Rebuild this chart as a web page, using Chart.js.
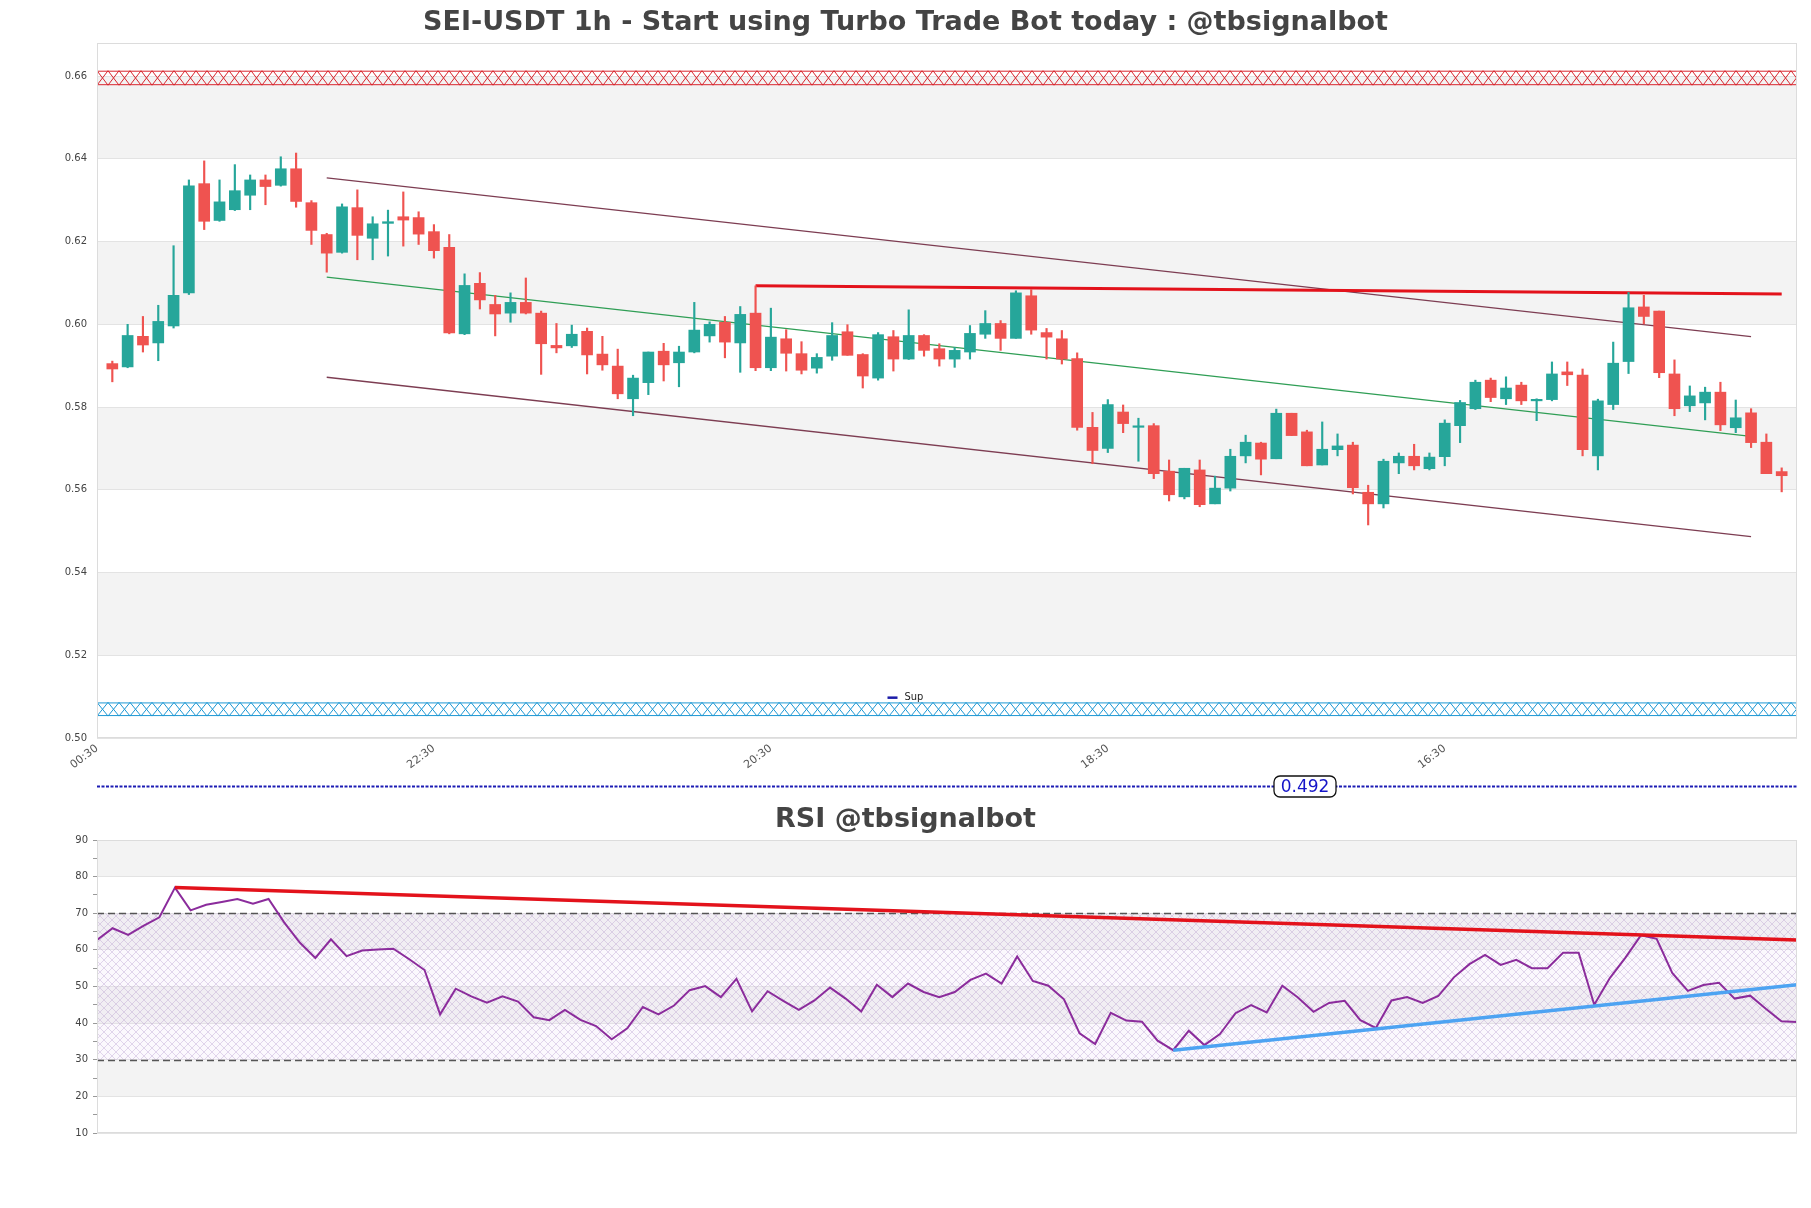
<!DOCTYPE html>
<html>
<head>
<meta charset="utf-8">
<script src="https://cdn.jsdelivr.net/npm/chart.js@4.4.0/dist/chart.umd.min.js"></script>
<style>
  html, body { margin: 0; padding: 0; background: #fff; }
  #wrap { position: relative; width: 1811px; height: 1208px; }
  #main { position: absolute; left: 0; top: 0; }
  #rsi { position: absolute; left: 0; top: 800px; }
</style>
</head>
<body>
<div id="wrap">
  <canvas id="main" width="1811" height="800"></canvas>
  <canvas id="rsi" width="1811" height="408"></canvas>
</div>
<script>
// ---- data ----
var xTickLabels = ['00:30', '22:30', '20:30', '18:30', '16:30'];
var tickEvery = 22; // hourly candles between two labels

var opens = [0.5905,0.5897,0.5971,0.5955,0.5996,0.6076,0.6340,0.6251,0.6277,0.6312,
  0.6349,0.6336,0.6376,0.6294,0.6217,0.6174,0.6282,0.6208,0.6244,0.6260,
  0.6258,0.6224,0.6186,0.5977,0.6099,0.6048,0.6027,0.6053,0.6027,0.5949,
  0.5948,0.5983,0.5928,0.5899,0.5820,0.5859,0.5935,0.5907,0.5933,0.5972,
  0.6005,0.5955,0.6027,0.5895,0.5965,0.5929,0.5894,0.5923,0.5982,0.5927,
  0.5870,0.5970,0.5916,0.5973,0.5941,0.5916,0.5933,0.5976,0.6002,0.5966,
  0.6069,0.5980,0.5965,0.5917,0.5751,0.5700,0.5788,0.5751,0.5755,0.5645,
  0.5583,0.5648,0.5566,0.5604,0.5682,0.5713,0.5675,0.5785,0.5740,0.5660,
  0.5697,0.5708,0.5594,0.5566,0.5665,0.5681,0.5651,0.5680,0.5755,0.5796,
  0.5865,0.5820,0.5853,0.5815,0.5818,0.5885,0.5877,0.5682,0.5806,0.5910,
  0.6042,0.6032,0.5880,0.5803,0.5810,0.5836,0.5750,0.5786,0.5715,0.5644];
var highs = [0.5911,0.6000,0.6019,0.6046,0.6190,0.6349,0.6395,0.6349,0.6386,0.6361,
  0.6361,0.6405,0.6414,0.6299,0.6220,0.6291,0.6325,0.6260,0.6276,0.6320,
  0.6272,0.6241,0.6217,0.6122,0.6125,0.6070,0.6076,0.6112,0.6032,0.6002,
  0.5998,0.5991,0.5971,0.5940,0.5877,0.5933,0.5954,0.5947,0.6053,0.6006,
  0.6019,0.6043,0.6093,0.6039,0.5987,0.5958,0.5929,0.6004,0.5999,0.5929,
  0.5980,0.5985,0.6035,0.5975,0.5953,0.5944,0.5997,0.6033,0.6009,0.6081,
  0.6084,0.5990,0.5985,0.5931,0.5787,0.5818,0.5805,0.5773,0.5760,0.5672,
  0.5652,0.5672,0.5633,0.5698,0.5732,0.5715,0.5795,0.5785,0.5744,0.5764,
  0.5735,0.5715,0.5611,0.5674,0.5689,0.5710,0.5689,0.5769,0.5816,0.5865,
  0.5870,0.5873,0.5860,0.5820,0.5909,0.5909,0.5892,0.5819,0.5957,0.6077,
  0.6070,0.6032,0.5914,0.5851,0.5848,0.5860,0.5817,0.5796,0.5735,0.5653];
var lows = [0.5861,0.5895,0.5933,0.5912,0.5991,0.6072,0.6229,0.6249,0.6275,0.6277,
  0.6289,0.6334,0.6283,0.6193,0.6126,0.6172,0.6156,0.6156,0.6165,0.6189,
  0.6193,0.6160,0.5977,0.5975,0.6037,0.5972,0.6005,0.6025,0.5879,0.5931,
  0.5944,0.5880,0.5889,0.5820,0.5779,0.5830,0.5863,0.5849,0.5931,0.5957,
  0.5919,0.5884,0.5888,0.5888,0.5887,0.5880,0.5882,0.5913,0.5925,0.5846,
  0.5865,0.5887,0.5915,0.5923,0.5899,0.5896,0.5916,0.5966,0.5937,0.5966,
  0.5976,0.5916,0.5904,0.5744,0.5663,0.5690,0.5738,0.5669,0.5627,0.5573,
  0.5578,0.5559,0.5566,0.5597,0.5665,0.5636,0.5675,0.5731,0.5658,0.5660,
  0.5682,0.5590,0.5515,0.5556,0.5639,0.5648,0.5648,0.5658,0.5714,0.5794,
  0.5813,0.5806,0.5806,0.5767,0.5815,0.5852,0.5682,0.5648,0.5794,0.5881,
  0.6001,0.5871,0.5779,0.5789,0.5769,0.5743,0.5738,0.5702,0.5639,0.5595];
var closes = [0.5892,0.5973,0.5950,0.6007,0.6070,0.6335,0.6249,0.6296,0.6323,0.6349,
  0.6333,0.6376,0.6297,0.6227,0.6172,0.6284,0.6215,0.6243,0.6248,0.6252,
  0.6218,0.6178,0.5979,0.6094,0.6059,0.6025,0.6053,0.6027,0.5953,0.5943,
  0.5976,0.5926,0.5902,0.5832,0.5870,0.5933,0.5902,0.5933,0.5986,0.6000,
  0.5957,0.6024,0.5895,0.5969,0.5930,0.5889,0.5920,0.5973,0.5925,0.5875,
  0.5975,0.5916,0.5973,0.5937,0.5916,0.5937,0.5978,0.6002,0.5966,0.6076,
  0.5986,0.5969,0.5916,0.5751,0.5695,0.5806,0.5760,0.5754,0.5639,0.5588,
  0.5652,0.5564,0.5604,0.5681,0.5715,0.5674,0.5785,0.5731,0.5658,0.5698,
  0.5706,0.5605,0.5566,0.5669,0.5681,0.5658,0.5679,0.5761,0.5811,0.5860,
  0.5823,0.5846,0.5815,0.5818,0.5880,0.5878,0.5697,0.5815,0.5906,0.6040,
  0.6019,0.5883,0.5796,0.5827,0.5836,0.5757,0.5774,0.5714,0.5639,0.5634];

var rsi = [62.7,65.9,64.1,66.6,68.9,77.0,70.8,72.3,73.1,73.9,
  72.6,73.9,67.5,62.0,57.8,62.9,58.3,59.8,60.1,60.3,
  57.5,54.5,42.4,49.4,47.3,45.6,47.3,45.9,41.6,40.8,
  43.6,40.9,39.2,35.6,38.6,44.4,42.4,44.8,49.0,50.1,
  47.1,52.1,43.2,48.7,46.1,43.6,46.2,49.7,46.7,43.2,
  50.5,47.1,50.8,48.5,47.1,48.5,51.8,53.5,50.8,58.2,
  51.5,50.2,46.5,37.2,34.3,42.8,40.7,40.4,35.2,32.6,
  37.9,34.0,37.0,42.7,44.9,42.9,50.2,47.0,43.1,45.5,
  46.1,40.8,38.7,46.2,47.1,45.5,47.4,52.5,56.1,58.6,
  55.9,57.3,55.0,55.0,59.2,59.2,45.0,52.3,57.9,64.0,
  63.0,53.7,48.8,50.4,51.0,46.7,47.5,43.9,40.5,40.3];

// trend lines as [candle index, value]
var channelTop = [[15, 0.6354], [108, 0.5970]];
var channelMid = [[15, 0.6114], [108, 0.5729]];
var channelBottom = [[15, 0.5872], [108, 0.5487]];
var resistanceLine = [[43, 0.6093], [110, 0.6073]];
var resZone = [0.6578, 0.6613];
var supZone = [0.5053, 0.5086];
var lastPrice = 0.492;

var rsiResLine = [[5, 77.0], [109, 62.7]];
var rsiSupLine = [[69, 32.6], [109, 50.5]];
var rsiLevels = [30, 70];

var mainTitle = 'SEI-USDT 1h - Start using Turbo Trade Bot today : @tbsignalbot';
var rsiTitle = 'RSI @tbsignalbot';

// ---- helpers ----
Chart.defaults.font.family = '"DejaVu Sans", sans-serif';
Chart.defaults.color = '#444';

var upColor = '#26a69a';
var downColor = '#ef5350';

var toXY = function(pairs) {
    return pairs.map(function(p) { return {x: p[0], y: p[1]}; });
};

// alternate grey bands between major ticks
var shadeBands = function(ctx, a, y, step) {
    ctx.fillStyle = '#f3f3f3';
    for (var i = 0; y.min + i * step < y.max - 1e-9; i++) {
        if (i % 2 === 0) continue;
        var lo = y.min + i * step;
        var hi = Math.min(y.min + (i + 1) * step, y.max);
        var top = y.getPixelForValue(hi), bot = y.getPixelForValue(lo);
        ctx.fillRect(a.left, top, a.right - a.left, bot - top);
    }
};

// zone drawn as a row of crosses between two rails
var hatchZone = function(ctx, a, y, zone, color) {
    var top = y.getPixelForValue(zone[1]), bot = y.getPixelForValue(zone[0]);
    var w = 11;
    ctx.save();
    ctx.beginPath();
    ctx.rect(a.left, top - 1, a.right - a.left, bot - top + 2);
    ctx.clip();
    ctx.strokeStyle = color;
    ctx.lineWidth = 1;
    ctx.beginPath();
    for (var x = a.left; x < a.right; x += w) {
        ctx.moveTo(x, top); ctx.lineTo(x + w, bot);
        ctx.moveTo(x + w, top); ctx.lineTo(x, bot);
    }
    ctx.moveTo(a.left, top + 0.5); ctx.lineTo(a.right, top + 0.5);
    ctx.moveTo(a.left, bot - 0.5); ctx.lineTo(a.right, bot - 0.5);
    ctx.stroke();
    ctx.restore();
};

var drawTitle = function(chart, text, yPos) {
    var ctx = chart.ctx;
    ctx.save();
    ctx.font = 'bold 27px "DejaVu Sans"';
    ctx.fillStyle = '#444';
    ctx.textAlign = 'center';
    ctx.textBaseline = 'middle';
    ctx.fillText(text, chart.width / 2, yPos);
    ctx.restore();
};

var drawBorder = function(chart) {
    var ctx = chart.ctx, a = chart.chartArea;
    ctx.save();
    ctx.strokeStyle = '#dcdcdc';
    ctx.lineWidth = 1;
    ctx.strokeRect(a.left + 0.5, a.top + 0.5, a.right - a.left - 1, a.bottom - a.top - 1);
    ctx.restore();
};

// ---- price chart ----
var mainDecor = {
    id: 'mainDecor',
    beforeDraw: function(chart) {
        var ctx = chart.ctx;
        ctx.save();
        ctx.fillStyle = '#fff';
        ctx.fillRect(0, 0, chart.width, chart.height);
        shadeBands(ctx, chart.chartArea, chart.scales.y, 0.02);
        ctx.restore();
    },
    beforeDatasetsDraw: function(chart) {
        hatchZone(chart.ctx, chart.chartArea, chart.scales.y, resZone, '#d8262e');
        hatchZone(chart.ctx, chart.chartArea, chart.scales.y, supZone, '#1e98d4');
    },
    afterDraw: function(chart) {
        var ctx = chart.ctx, a = chart.chartArea, y = chart.scales.y;
        drawBorder(chart);
        drawTitle(chart, mainTitle, 23);

        // legend, only the support zone is listed
        var ly = y.getPixelForValue(supZone[1]) - 5;
        var lx = chart.width / 2 - 18;
        ctx.save();
        ctx.fillStyle = '#1c1ca8';
        ctx.fillRect(lx, ly - 1, 10, 2.5);
        ctx.font = '11px "Liberation Sans Narrow", "DejaVu Sans Condensed", sans-serif';
        ctx.fillStyle = '#222';
        ctx.textBaseline = 'middle';
        ctx.fillText('Sup', lx + 17, ly);
        ctx.restore();

        // last price line, below the visible range
        var py = a.bottom + 48.5;
        ctx.save();
        ctx.strokeStyle = '#1c1cb4';
        ctx.lineWidth = 2;
        ctx.setLineDash([3, 1.5]);
        ctx.beginPath();
        ctx.moveTo(a.left, py); ctx.lineTo(a.right, py);
        ctx.stroke();
        ctx.setLineDash([]);
        var bx = 1274, bw = 62, bh = 21;
        ctx.beginPath();
        ctx.roundRect(bx, py - bh / 2, bw, bh, 6);
        ctx.fillStyle = '#fff';
        ctx.fill();
        ctx.lineWidth = 1.3;
        ctx.strokeStyle = '#111';
        ctx.stroke();
        ctx.font = '17px "DejaVu Sans"';
        ctx.fillStyle = '#1515c8';
        ctx.textAlign = 'center';
        ctx.textBaseline = 'middle';
        ctx.fillText(lastPrice.toFixed(3), bx + bw / 2, py + 1);
        ctx.restore();
    }
};

var candleX = opens.map(function(o, i) { return i + 1; });
var candleColors = opens.map(function(o, i) { return closes[i] >= o ? upColor : downColor; });

var lineSet = function(label, pairs, color, width, order) {
    return {
        type: 'line', label: label, data: toXY(pairs),
        borderColor: color, borderWidth: width, pointRadius: 0, order: order
    };
};

new Chart(document.getElementById('main'), {
    type: 'bar',
    data: {
        datasets: [
            {
                label: 'Body',
                data: candleX.map(function(x, i) { return {x: x, y: [opens[i], closes[i]]}; }),
                backgroundColor: candleColors,
                barThickness: 11, minBarLength: 1.5, grouped: false, order: 0
            },
            {
                label: 'Wick',
                data: candleX.map(function(x, i) { return {x: x, y: [lows[i], highs[i]]}; }),
                backgroundColor: candleColors,
                barThickness: 1.5, grouped: false, order: 1
            },
            lineSet('Res', resistanceLine, '#e3121b', 3, 2),
            lineSet('Channel top', channelTop, '#7d3d52', 1.3, 3),
            lineSet('Channel mid', channelMid, '#2f9e55', 1.3, 4),
            lineSet('Channel bottom', channelBottom, '#7d3d52', 1.3, 5)
        ]
    },
    options: {
        responsive: false,
        devicePixelRatio: 1,
        animation: false,
        layout: {padding: {top: 43, right: 14, left: 0, bottom: 0}},
        plugins: {legend: {display: false}, title: {display: false}, tooltip: {enabled: false}},
        scales: {
            x: {
                type: 'linear', min: 0, max: candleX.length + 1, offset: false,
                grid: {display: false, drawTicks: false, offset: false},
                border: {display: false},
                afterBuildTicks: function(s) {
                    s.ticks = xTickLabels.map(function(l, k) { return {value: k * tickEvery}; });
                },
                afterFit: function(s) { s.height = 62; },
                ticks: {
                    autoSkip: false, minRotation: 37, maxRotation: 37, padding: 4,
                    font: {size: 11}, color: '#555',
                    callback: function(v) { return xTickLabels[Math.round(v / tickEvery)]; }
                }
            },
            y: {
                min: 0.5, max: 0.668,
                afterFit: function(s) { s.width = 97; },
                grid: {color: '#e3e3e3', drawTicks: false},
                border: {display: false},
                ticks: {
                    stepSize: 0.02, includeBounds: false, padding: 10,
                    font: {size: 10}, color: '#444',
                    callback: function(v) { return v.toFixed(2); }
                }
            }
        }
    },
    plugins: [mainDecor]
});

// ---- RSI chart ----
var hatchCanvas = document.createElement('canvas');
hatchCanvas.width = hatchCanvas.height = 8;
var hc = hatchCanvas.getContext('2d');
hc.strokeStyle = 'rgba(175, 145, 200, 0.35)';
hc.lineWidth = 1;
hc.beginPath();
hc.moveTo(0, 0); hc.lineTo(8, 8);
hc.moveTo(8, 0); hc.lineTo(0, 8);
hc.stroke();

var rsiDecor = {
    id: 'rsiDecor',
    beforeDraw: function(chart) {
        var ctx = chart.ctx;
        ctx.save();
        ctx.fillStyle = '#fff';
        ctx.fillRect(0, 0, chart.width, chart.height);
        shadeBands(ctx, chart.chartArea, chart.scales.y, 10);
        ctx.restore();
    },
    beforeDatasetsDraw: function(chart) {
        var ctx = chart.ctx, a = chart.chartArea, y = chart.scales.y;
        var top = y.getPixelForValue(rsiLevels[1]), bot = y.getPixelForValue(rsiLevels[0]);
        ctx.save();
        ctx.fillStyle = 'rgba(232, 218, 242, 0.18)';
        ctx.fillRect(a.left, top, a.right - a.left, bot - top);
        ctx.fillStyle = ctx.createPattern(hatchCanvas, 'repeat');
        ctx.fillRect(a.left, top, a.right - a.left, bot - top);
        ctx.strokeStyle = '#555';
        ctx.lineWidth = 1.3;
        ctx.setLineDash([7, 4]);
        rsiLevels.forEach(function(v) {
            var py = Math.round(y.getPixelForValue(v)) + 0.5;
            ctx.beginPath();
            ctx.moveTo(a.left, py); ctx.lineTo(a.right, py);
            ctx.stroke();
        });
        ctx.restore();
    },
    afterDraw: function(chart) {
        drawBorder(chart);
        drawTitle(chart, rsiTitle, 20);
    }
};

new Chart(document.getElementById('rsi'), {
    type: 'line',
    data: {
        datasets: [
            {label: 'RSI res', data: toXY(rsiResLine), borderColor: '#e3121b', borderWidth: 3.5, pointRadius: 0, order: 0},
            {label: 'RSI sup', data: toXY(rsiSupLine), borderColor: '#4da3f2', borderWidth: 3.5, pointRadius: 0, order: 1},
            {
                label: 'RSI',
                data: rsi.map(function(v, i) { return {x: i, y: v}; }),
                borderColor: '#8b2c9c', borderWidth: 2, pointRadius: 0, tension: 0, order: 2
            }
        ]
    },
    options: {
        responsive: false,
        devicePixelRatio: 1,
        animation: false,
        layout: {padding: {top: 40, right: 14, left: 0, bottom: 75}},
        plugins: {legend: {display: false}, title: {display: false}, tooltip: {enabled: false}},
        scales: {
            x: {type: 'linear', min: 0, max: rsi.length - 1, display: false},
            y: {
                min: 10, max: 90,
                afterFit: function(s) { s.width = 97; },
                border: {display: false},
                grid: {
                    color: function(c) { return c.tick.value % 10 === 0 ? '#e3e3e3' : 'rgba(0,0,0,0)'; },
                    tickColor: '#999', tickLength: 4
                },
                ticks: {
                    stepSize: 5, autoSkip: false, padding: 5,
                    font: {size: 10}, color: '#444',
                    callback: function(v) { return v % 10 === 0 ? v : ''; }
                }
            }
        }
    },
    plugins: [rsiDecor]
});
</script>
</body>
</html>
